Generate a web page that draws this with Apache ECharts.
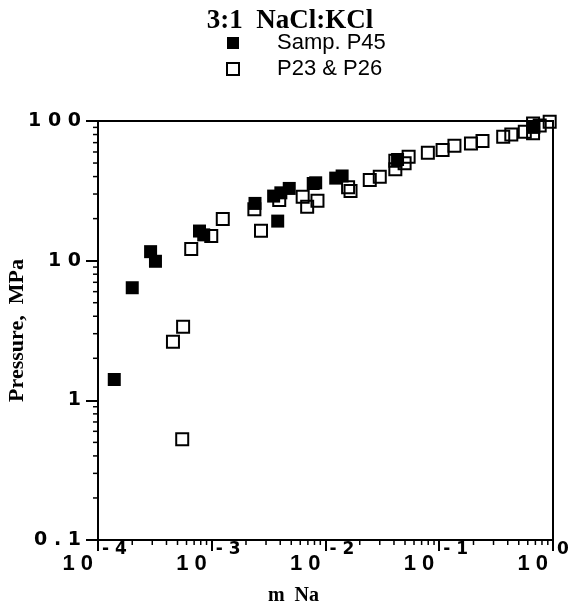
<!DOCTYPE html>
<html>
<head>
<meta charset="utf-8">
<script src="https://cdn.jsdelivr.net/npm/echarts@6/dist/echarts.min.js"></script>
<style>
  html, body { margin: 0; padding: 0; background: #fff; }
  #chart { width: 580px; height: 611px; }
</style>
</head>
<body>
<div id="chart"></div>
<script>
// 3:1 NaCl:KCl  -- pressure vs molality of Na
var p45Na = [1.39e-4, 2.0e-4, 2.9e-4, 3.2e-4, 7.8e-4, 8.5e-4, 2.4e-3, 3.5e-3, 3.8e-3, 4.05e-3, 4.8e-3, 7.8e-3, 8.2e-3, 0.0123, 0.014, 0.043, 0.68];
var p45P  = [1.41, 6.4, 11.6, 9.9, 16.3, 15.3, 25.7, 29, 19.2, 30.6, 32.9, 35.7, 36.1, 39, 40.4, 53, 90];

var p23Na = [5.5e-4, 4.56e-4, 5.6e-4, 6.6e-4, 9.9e-4, 1.25e-3, 2.37e-3, 2.71e-3, 3.92e-3, 6.3e-3, 6.9e-3, 8.5e-3, 0.0158, 0.0166, 0.0245, 0.030, 0.0411, 0.0411, 0.0496, 0.0538, 0.0794, 0.107, 0.136, 0.19, 0.24, 0.365, 0.43, 0.565, 0.668, 0.668, 0.764, 0.935];
var p23P  = [0.526, 2.63, 3.36, 12.1, 15.0, 19.9, 23.3, 16.4, 27.2, 28.7, 24.3, 26.9, 33.5, 31.6, 37.8, 39.9, 45.1, 52, 49.8, 55.5, 59.2, 62, 66.4, 69, 72, 77, 80, 83.7, 96, 81.6, 93, 98.7];

var seriesNames = ['Samp. P45', 'P23 & P26'];

var xExponents = ['- 4', '- 3', '- 2', '- 1', '0'];
var yTickLabels = { '0.1': '0 . 1', '1': '1', '10': '1 0', '100': '1 0 0' };

// minor ticks (2..9 in each decade)
var minorSteps = [2, 3, 4, 5, 6, 7, 8, 9];
var xDecades = [1e-4, 1e-3, 1e-2, 1e-1];
var yDecades = [0.1, 1, 10];

var minorTicks = [];
xDecades.forEach(function (d) { minorSteps.forEach(function (s) { minorTicks.push([d * s, 0.1, 0]); }); });
yDecades.forEach(function (d) { minorSteps.forEach(function (s) { minorTicks.push([1e-4, d * s, 1]); }); });

function zip(a, b) { return a.map(function (v, i) { return [v, b[i]]; }); }

var chart = echarts.init(document.getElementById('chart'));

var tickFont = 'DejaVu Sans';

chart.setOption({
  animation: false,
  title: {
    text: '3:1  NaCl:KCl',
    left: 'center',
    top: 3,
    textStyle: { fontFamily: 'Liberation Serif', fontWeight: 'bold', fontSize: 27, color: '#000' }
  },
  legend: {
    orient: 'vertical',
    left: 221,
    top: 27,
    itemWidth: 12,
    itemHeight: 12,
    itemGap: 4,
    icon: 'rect',
    textStyle: { fontFamily: 'Liberation Sans', fontSize: 22, lineHeight: 22, color: '#000', padding: [0, 0, 0, 33] },
    data: [
      { name: seriesNames[0], itemStyle: { color: '#000' } },
      { name: seriesNames[1], itemStyle: { color: '#fff', borderColor: '#000', borderWidth: 2 } }
    ]
  },
  grid: {
    left: 98, right: 27, top: 121, bottom: 71,
    outerBoundsMode: 'none',
    containLabel: false,
    show: true, borderColor: '#000', borderWidth: 2, backgroundColor: 'transparent'
  },
  xAxis: [
    {
      type: 'log',
      logBase: 10,
      min: 1e-4,
      max: 1,
      splitNumber: 4,
      position: 'bottom',
      name: 'm  Na',
      nameLocation: 'middle',
      nameGap: 46,
      nameMoveOverlap: false,
      nameTextStyle: { fontFamily: 'Liberation Serif', fontWeight: 'bold', fontSize: 20, color: '#000', padding: [0, 64, 0, 0] },
      axisLine: { lineStyle: { color: '#000', width: 2 } },
      axisTick: { length: 11, lineStyle: { color: '#000', width: 2 } },
      splitLine: { show: false },
      axisLabel: {
        margin: 13,
        align: 'right',
        hideOverlap: false,
        fontFamily: 'Liberation Sans',
        fontWeight: 'bold',
        fontSize: 22,
        color: '#000',
        padding: [0, 5, 0, 0],
        formatter: function () { return '1 0'; }
      }
    },
    {
      // exponents, set as superscripts just right of each decade tick
      type: 'log',
      logBase: 10,
      min: 1e-4,
      max: 1,
      splitNumber: 4,
      position: 'bottom',
      offset: 0,
      axisLine: { show: false },
      axisTick: { show: false },
      splitLine: { show: false },
      axisLabel: {
        margin: 1,
        align: 'left',
        hideOverlap: false,
        fontFamily: tickFont,
        fontWeight: 'bold',
        fontSize: 17,
        color: '#000',
        padding: [0, 0, 0, 4],
        formatter: function (v) { return xExponents[Math.round(Math.log10(v)) + 4]; }
      }
    }
  ],
  yAxis: {
    type: 'log',
    logBase: 10,
    min: 0.1,
    max: 100,
    splitNumber: 3,
    name: 'Pressure,  MPa',
    nameLocation: 'middle',
    nameGap: 70,
    nameMoveOverlap: false,
    nameTextStyle: { fontFamily: 'Liberation Serif', fontWeight: 'bold', fontSize: 22, color: '#000' },
    axisLine: { lineStyle: { color: '#000', width: 2 } },
    axisTick: { length: 12, lineStyle: { color: '#000', width: 2 } },
    splitLine: { show: false },
    axisLabel: {
      margin: 17,
      fontFamily: tickFont,
      fontWeight: 'bold',
      fontSize: 19,
      color: '#000',
      formatter: function (v) { return yTickLabels[String(+v.toPrecision(3))] || ''; }
    }
  },
  series: [
    {
      name: 'minor',
      type: 'custom',
      silent: true,
      data: minorTicks,
      renderItem: function (params, api) {
        var p = api.coord([api.value(0), api.value(1)]);
        var isY = api.value(2) === 1;
        var shape = isY
          ? { x1: p[0] - 5, y1: p[1], x2: p[0], y2: p[1] }
          : { x1: p[0], y1: p[1], x2: p[0], y2: p[1] + 5 };
        return { type: 'line', shape: shape, style: { stroke: '#000', lineWidth: 1.5 } };
      },
      z: 1
    },
    {
      name: seriesNames[0],
      type: 'scatter',
      symbol: 'rect',
      symbolSize: 13,
      itemStyle: { color: '#000', opacity: 1 },
      data: zip(p45Na, p45P),
      z: 3
    },
    {
      name: seriesNames[1],
      type: 'scatter',
      symbol: 'rect',
      symbolSize: 12,
      itemStyle: { color: 'rgba(255,255,255,0)', borderColor: '#000', borderWidth: 2, opacity: 1 },
      data: zip(p23Na, p23P),
      z: 4
    }
  ]
});
</script>
</body>
</html>
